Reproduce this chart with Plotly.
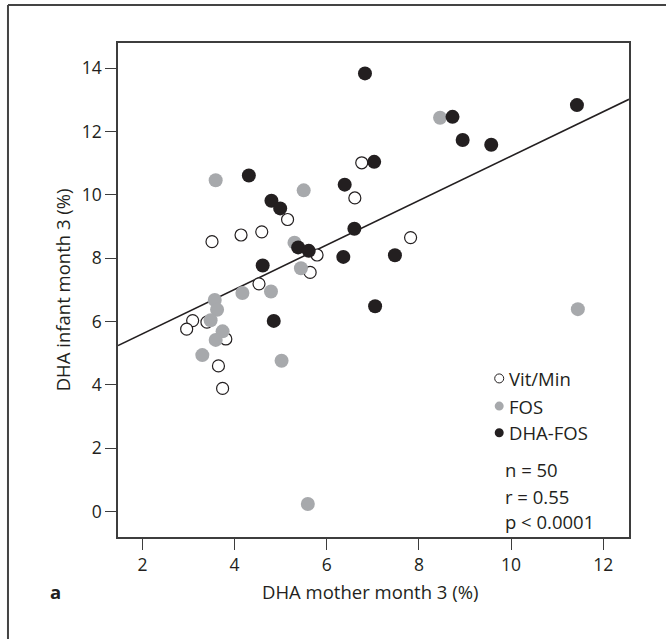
import plotly.graph_objects as go

# ---- data ----
vit_x = [3.51, 4.14, 4.59, 5.15, 5.79, 5.64, 4.53, 3.09, 2.96, 3.40, 3.81, 3.65, 3.74, 6.76, 6.61, 7.82]
vit_y = [8.52, 8.73, 8.83, 9.22, 8.10, 7.55, 7.19, 6.03, 5.76, 5.98, 5.45, 4.60, 3.89, 11.01, 9.90, 8.65]

fos_x = [3.59, 5.50, 5.30, 5.44, 4.17, 4.79, 3.57, 3.62, 3.48, 3.74, 3.59, 3.30, 5.02, 8.46, 11.45, 5.59]
fos_y = [10.46, 10.14, 8.49, 7.68, 6.90, 6.95, 6.68, 6.37, 6.04, 5.69, 5.42, 4.94, 4.76, 12.43, 6.39, 0.24]

dha_x = [4.31, 6.39, 4.80, 4.99, 5.38, 5.61, 6.36, 4.61, 7.48, 7.05, 4.85, 6.83, 8.73, 11.43, 8.95, 9.57, 7.03, 6.60]
dha_y = [10.61, 10.32, 9.81, 9.57, 8.34, 8.23, 8.04, 7.77, 8.09, 6.48, 6.02, 13.83, 12.46, 12.83, 11.73, 11.58, 11.04, 8.93]

fit_intercept = 4.21
fit_slope = 0.701

x_range = [1.47, 12.56]
y_range = [-0.80, 14.79]
x_ticks = [2, 4, 6, 8, 10, 12]
y_ticks = [0, 2, 4, 6, 8, 10, 12, 14]

legend_labels = ["Vit/Min", "FOS", "DHA-FOS"]
stats_lines = ["n = 50", "r = 0.55", "p < 0.0001"]

# ---- styles ----
TXT = "#231f20"
GRAY = "#a7a9ac"
BLACK = "#231f20"
AX = "#3d3d3d"
FONT = "Open Sans"
FS_TICK = 17.5
FS = 18.5

fig = go.Figure()

fit_x = x_range
fit_y = [fit_intercept + fit_slope * v for v in fit_x]
fig.add_trace(go.Scatter(x=fit_x, y=fit_y, mode="lines",
                         line=dict(color=BLACK, width=1.6), showlegend=False, hoverinfo="skip"))

fig.add_trace(go.Scatter(x=vit_x, y=vit_y, mode="markers", name="Vit/Min", showlegend=False,
                         marker=dict(size=12, color="white", line=dict(color=BLACK, width=1.2))))
fig.add_trace(go.Scatter(x=fos_x, y=fos_y, mode="markers", name="FOS", showlegend=False,
                         marker=dict(size=14, color=GRAY, line=dict(width=0))))
fig.add_trace(go.Scatter(x=dha_x, y=dha_y, mode="markers", name="DHA-FOS", showlegend=False,
                         marker=dict(size=14, color=BLACK, line=dict(width=0))))

axis_common = dict(showline=True, mirror=True, linecolor=AX, linewidth=1.5,
                   ticks="outside", ticklen=11, tickwidth=1.3, tickcolor=AX,
                   showgrid=False, zeroline=False,
                   tickfont=dict(family=FONT, size=FS_TICK, color=TXT))

fig.update_layout(
    width=666, height=639,
    margin=dict(l=118, r=37, t=43, b=102),
    paper_bgcolor="white", plot_bgcolor="white",
    xaxis=dict(range=x_range, tickvals=x_ticks, **axis_common),
    yaxis=dict(range=y_range, tickvals=y_ticks, **axis_common),
    showlegend=False,
)

# axis titles
fig.add_annotation(text="DHA mother month 3 (%)", xref="paper", yref="paper",
                   x=0.493, y=-0.111, xanchor="center", yanchor="middle", showarrow=False,
                   font=dict(family=FONT, size=FS, color=TXT))
fig.add_annotation(text="DHA infant month 3 (%)", xref="paper", yref="paper",
                   x=-0.109, y=0.5, xanchor="center", yanchor="middle", textangle=-90,
                   showarrow=False, font=dict(family=FONT, size=FS, color=TXT))
fig.add_annotation(text="<b>a</b>", xref="paper", yref="paper",
                   x=-0.122, y=-0.111, xanchor="center", yanchor="middle", showarrow=False,
                   font=dict(family=FONT, size=FS, color=TXT))

# manual legend
leg_y = [0.321, 0.265, 0.211]
leg_style = [dict(fillcolor="white", line=dict(color=BLACK, width=1)),
             dict(fillcolor=GRAY, line=dict(width=0)),
             dict(fillcolor=BLACK, line=dict(width=0))]
for lab, yy, st in zip(legend_labels, leg_y, leg_style):
    fig.add_shape(type="circle", xref="paper", yref="paper", xsizemode="pixel", ysizemode="pixel",
                  xanchor=0.746, yanchor=yy, x0=-4.5, x1=4.5, y0=-4.5, y1=4.5, **st)
    fig.add_annotation(text=lab, xref="paper", yref="paper", x=0.762, y=yy,
                       xanchor="left", yanchor="middle", showarrow=False,
                       font=dict(family=FONT, size=FS, color=TXT))

stats_y = [0.136, 0.0816, 0.031]
for s, yy in zip(stats_lines, stats_y):
    fig.add_annotation(text=s, xref="paper", yref="paper", x=0.753, y=yy,
                       xanchor="left", yanchor="middle", showarrow=False,
                       font=dict(family=FONT, size=FS, color=TXT))

# outer frame (top and left)
fig.add_shape(type="line", xref="paper", yref="paper", x0=-0.2153, x1=1.08, y0=1.0769, y1=1.0769,
              line=dict(color="#444444", width=2))
fig.add_shape(type="line", xref="paper", yref="paper", x0=-0.2153, x1=-0.2153, y0=1.0769, y1=-0.22,
              line=dict(color="#444444", width=2))

fig.write_html("out.html")
